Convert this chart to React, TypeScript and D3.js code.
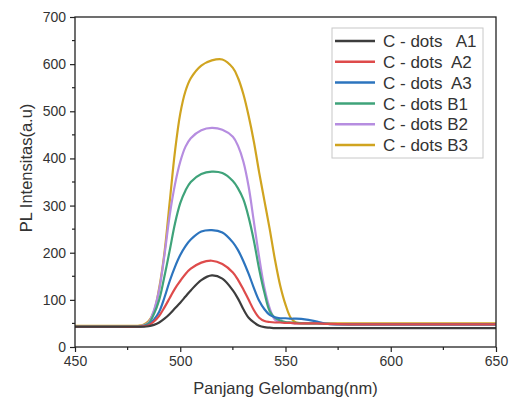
import React, { useEffect, useRef } from 'react';
import * as d3 from 'd3';

// wavelength grid (nm)
const wavelengths = [450, 470, 480, 482.5, 485, 487.5, 490, 492.5, 495, 497.5, 500, 502.5, 505, 510, 515, 520, 525, 527.5, 530, 532.5, 535, 537.5, 540, 542.5, 545, 547.5, 550, 552.5, 555, 560, 565, 570, 580, 600, 650];

const seriesNames = ['C - dots   A1', 'C - dots  A2', 'C - dots  A3', 'C - dots B1', 'C - dots B2', 'C - dots B3'];
const seriesColors = ['#3d3d3d', '#de4b4b', '#2c74be', '#3fa37a', '#b68de0', '#d0a420'];

const a1 = [43, 43, 43, 43, 44, 47, 52, 60, 70, 82, 94, 107, 120, 142, 152, 145, 120, 102, 80, 62, 52, 45, 42, 41, 40, 40, 40, 40, 40, 40, 40, 40, 40, 40, 40];
const a2 = [43, 43, 43, 44, 46, 54, 66, 84, 104, 124, 140, 155, 166, 179, 183, 176, 158, 142, 122, 100, 78, 62, 55, 53, 52, 52, 51, 51, 50, 50, 50, 49, 48, 48, 48];
const a3 = [43, 43, 43, 44, 47, 58, 75, 105, 140, 170, 195, 214, 228, 245, 248, 243, 222, 205, 182, 155, 125, 98, 80, 68, 63, 61, 61, 60, 60, 58, 54, 49, 48, 48, 48];
const b1 = [43, 43, 43, 45, 50, 70, 100, 150, 205, 262, 305, 332, 350, 367, 372, 369, 352, 336, 313, 275, 225, 165, 115, 76, 62, 56, 53, 52, 51, 50, 50, 49, 48, 48, 48];
const b2 = [43, 43, 43, 46, 52, 78, 122, 195, 280, 345, 393, 425, 443, 460, 465, 461, 446, 426, 393, 340, 265, 190, 125, 82, 58, 53, 52, 51, 50, 50, 50, 49, 48, 48, 48];
const b3 = [45, 45, 45, 47, 55, 75, 125, 200, 308, 415, 495, 543, 570, 597, 608, 610, 592, 570, 536, 490, 435, 370, 310, 250, 185, 130, 90, 62, 52, 50, 50, 50, 50, 50, 50];

const allSeries = [a1, a2, a3, b1, b2, b3];

const xTicks = [450, 500, 550, 600, 650];
const yTicks = [0, 100, 200, 300, 400, 500, 600, 700];

const App = () => {
    const svgRef = useRef<SVGSVGElement>(null);

    useEffect(() => {
        const width = 512;
        const height = 400;
        const margin = { top: 17, right: 16, bottom: 53, left: 75 };

        const svg = d3.select(svgRef.current)
            .attr('width', width)
            .attr('height', height);
        svg.selectAll('*').remove();

        const x = d3.scaleLinear().domain([450, 650]).range([margin.left, width - margin.right]);
        const y = d3.scaleLinear().domain([0, 700]).range([height - margin.bottom, margin.top]);

        const font = '"Liberation Sans", Arial, sans-serif';
        const textColor = '#333';

        // curves
        const line = d3.line<number>()
            .x((_, i) => x(wavelengths[i]))
            .y(d => y(d))
            .curve(d3.curveCatmullRom.alpha(0.5));

        const order = [5, 4, 3, 2, 1, 0];
        order.forEach(k => {
            svg.append('path')
                .datum(allSeries[k])
                .attr('fill', 'none')
                .attr('stroke', seriesColors[k])
                .attr('stroke-width', 2.2)
                .attr('d', line);
        });

        // frame
        svg.append('rect')
            .attr('x', x(450))
            .attr('y', y(700))
            .attr('width', x(650) - x(450))
            .attr('height', y(0) - y(700))
            .attr('fill', 'none')
            .attr('stroke', '#222')
            .attr('stroke-width', 1.3);

        // x axis
        const xAxis = d3.axisBottom(x)
            .tickValues(xTicks)
            .tickSize(5)
            .tickSizeOuter(0)
            .tickPadding(4);
        const gx = svg.append('g')
            .attr('transform', `translate(0,${y(0)})`)
            .call(xAxis);
        gx.select('.domain').remove();
        gx.selectAll('line').attr('stroke', '#222').attr('stroke-width', 1.2);
        gx.selectAll('text').attr('font-size', 14).attr('font-family', font).attr('fill', textColor);

        const xMinor = d3.range(475, 650, 50);
        svg.append('g').selectAll('line')
            .data(xMinor)
            .enter().append('line')
            .attr('x1', d => x(d)).attr('x2', d => x(d))
            .attr('y1', y(0)).attr('y2', y(0) + 3)
            .attr('stroke', '#222').attr('stroke-width', 1.2);

        // y axis
        const yAxis = d3.axisLeft(y)
            .tickValues(yTicks)
            .tickSize(5)
            .tickSizeOuter(0)
            .tickPadding(4);
        const gy = svg.append('g')
            .attr('transform', `translate(${x(450)},0)`)
            .call(yAxis);
        gy.select('.domain').remove();
        gy.selectAll('line').attr('stroke', '#222').attr('stroke-width', 1.2);
        gy.selectAll('text').attr('font-size', 14).attr('font-family', font).attr('fill', textColor);

        const yMinor = d3.range(50, 700, 100);
        svg.append('g').selectAll('line')
            .data(yMinor)
            .enter().append('line')
            .attr('x1', x(450) - 3).attr('x2', x(450))
            .attr('y1', d => y(d)).attr('y2', d => y(d))
            .attr('stroke', '#222').attr('stroke-width', 1.2);

        // axis titles
        svg.append('text')
            .attr('x', (x(450) + x(650)) / 2)
            .attr('y', 394)
            .attr('text-anchor', 'middle')
            .attr('font-size', 16.5)
            .attr('font-family', font)
            .attr('fill', textColor)
            .text('Panjang Gelombang(nm)');

        svg.append('text')
            .attr('transform', `translate(32,${(y(0) + y(700)) / 2 - 14}) rotate(-90)`)
            .attr('text-anchor', 'middle')
            .attr('font-size', 16.5)
            .attr('font-family', font)
            .attr('fill', textColor)
            .text('PL Intensitas(a.u)');

        // legend
        const legend = svg.append('g').attr('transform', 'translate(332,28)');
        legend.append('rect')
            .attr('width', 151)
            .attr('height', 130)
            .attr('fill', 'white')
            .attr('stroke', '#c8c8c8')
            .attr('stroke-width', 1);

        const item = legend.selectAll('.item')
            .data(seriesNames)
            .enter().append('g')
            .attr('class', 'item')
            .attr('transform', (_, i) => `translate(0,${13 + i * 20.8})`);

        item.append('line')
            .attr('x1', 3).attr('x2', 43)
            .attr('stroke', (_, i) => seriesColors[i])
            .attr('stroke-width', 2.5);

        item.append('text')
            .attr('x', 51)
            .attr('dy', '0.36em')
            .attr('font-size', 17)
            .attr('font-family', font)
            .attr('fill', textColor)
            .style('white-space', 'pre')
            .text(d => d);
    }, []);

    return <svg ref={svgRef} style={{ position: 'absolute', left: 0, top: 0 }}></svg>;
};

export default App;
